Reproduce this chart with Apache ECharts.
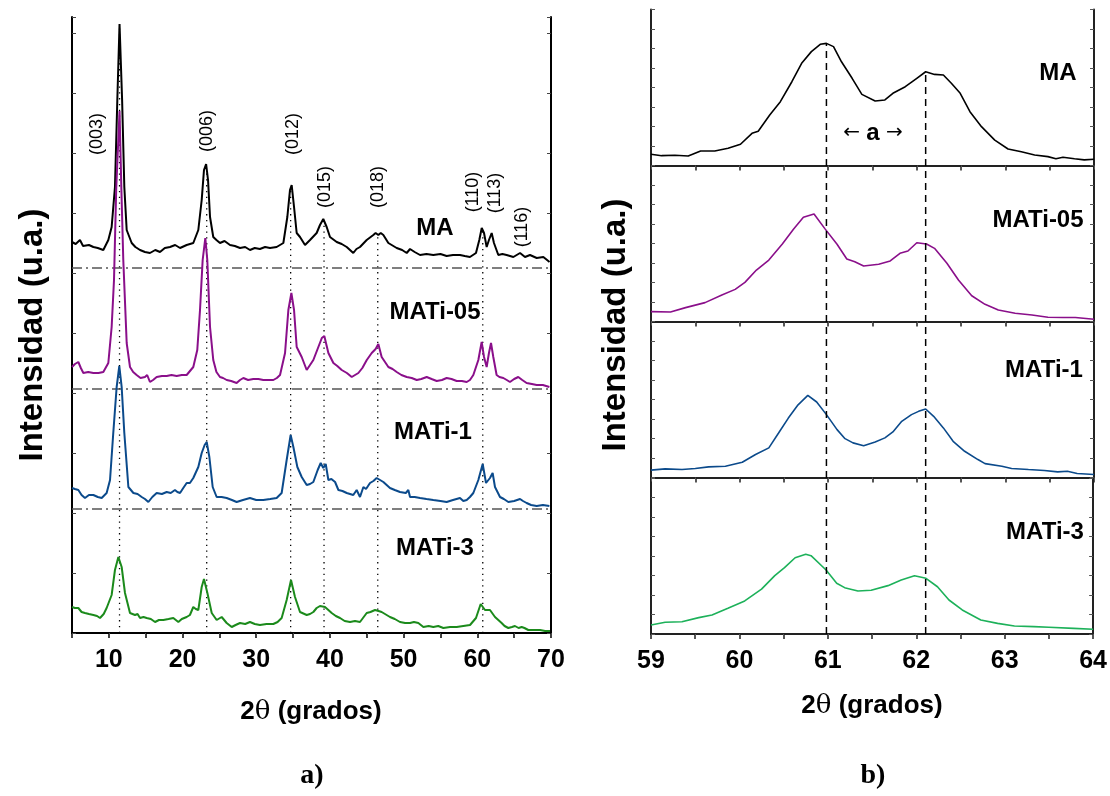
<!DOCTYPE html>
<html>
<head>
<meta charset="utf-8">
<script src="https://cdn.jsdelivr.net/npm/echarts@6/dist/echarts.min.js"></script>
<style>
html,body{margin:0;padding:0;background:#fff;}
#chart{width:1110px;height:796px;}
</style>
</head>
<body>
<div id="chart"></div>
<script>
// ---------- DATA: panel a) XRD patterns, [2theta, intensity above own baseline] ----------
const maA = [[5.0,26],[5.5,24],[6.08,28],[6.5,22],[6.76,20],[7.3,23],[7.9,21],[8.5,20],[9.25,18],[9.93,28],[10.38,41],[10.83,81],[11.15,168],[11.45,244],[11.8,168],[12.1,81],[12.42,38],[13.1,25],[13.6,21],[14.23,18],[14.9,16],[15.58,15],[16.3,18],[16.94,16],[17.6,20],[18.3,21],[19.0,23],[19.66,20],[20.56,23],[21.46,25],[22.14,38],[22.6,68],[22.91,98],[23.2,104],[23.46,88],[23.73,51],[24.17,31],[24.6,28],[25.08,25],[25.7,27],[26.44,23],[27.1,22],[27.8,20],[28.5,21],[29.15,18],[29.8,20],[30.5,19],[31.2,21],[31.87,20],[32.77,21],[33.68,25],[34.22,51],[34.58,78],[34.81,83],[35.13,61],[35.49,35],[35.94,31],[36.62,23],[37.3,28],[38.2,35],[38.65,43],[39.1,49],[39.56,41],[40.01,31],[40.92,26],[41.6,24],[42.28,21],[43.17,15],[43.6,19],[44.08,21],[44.99,28],[45.89,33],[46.2,35],[46.57,33],[46.9,35],[47.25,33],[47.93,25],[49.06,20],[49.8,18],[50.42,15],[50.87,19],[51.5,16],[52.23,13],[53.1,14],[54.03,13],[55.0,14],[55.84,12],[56.7,13],[57.65,13],[58.3,12],[59.0,11],[59.82,15],[60.27,28],[60.6,40],[60.91,35],[61.27,21],[61.58,28],[61.95,35],[62.26,25],[62.85,13],[63.4,14],[63.98,13],[64.89,11],[65.8,15],[66.47,11],[67.15,13],[68.06,10],[68.96,11],[69.3,9],[69.8,6]];
const mati05A = [[5.0,22],[5.4,25],[5.86,27],[6.2,21],[6.54,16],[7.2,17],[7.9,16],[8.6,16],[9.25,17],[9.93,26],[10.38,62],[10.7,109],[11.0,200],[11.45,278],[11.7,200],[11.96,129],[12.42,46],[12.87,22],[13.3,17],[13.77,14],[14.3,11],[14.9,12],[15.2,14],[15.58,7],[16.0,9],[16.49,12],[17.2,13],[17.85,13],[18.5,14],[19.2,13],[19.9,14],[20.56,14],[21.46,22],[22.0,39],[22.37,79],[22.73,129],[23.09,151],[23.36,129],[23.73,62],[24.17,29],[24.6,17],[25.08,12],[25.5,11],[25.99,9],[26.6,8],[27.34,6],[27.8,9],[28.25,11],[28.9,9],[29.6,10],[30.3,10],[30.96,9],[31.6,9],[32.32,9],[32.8,11],[33.23,14],[33.91,36],[34.36,79],[34.77,96],[35.13,79],[35.49,42],[36.17,32],[36.85,19],[37.3,24],[37.75,29],[38.43,42],[38.9,51],[39.24,53],[39.79,36],[40.47,26],[41.0,23],[41.6,19],[42.3,16],[42.96,12],[43.86,16],[44.4,21],[45.0,29],[45.67,36],[46.2,40],[46.57,45],[47.02,32],[47.93,22],[48.5,20],[49.06,17],[49.7,14],[50.42,12],[51.1,11],[51.78,9],[52.4,10],[53.13,12],[53.8,10],[54.49,8],[55.2,9],[55.84,11],[56.5,10],[57.2,8],[57.9,8],[58.56,7],[59.0,9],[59.46,14],[60.14,29],[60.59,47],[60.91,32],[61.27,22],[61.58,36],[61.86,46],[62.17,32],[62.62,14],[63.0,12],[63.53,11],[64.0,9],[64.43,7],[65.0,10],[65.56,12],[66.1,9],[66.69,6],[67.4,5],[68.06,4],[68.9,4],[69.78,2]];
const mati1A = [[5.0,21],[5.4,20],[5.86,19],[6.3,14],[6.76,11],[7.3,14],[7.9,14],[8.5,12],[9.03,11],[9.7,16],[10.16,29],[10.6,76],[11.06,122],[11.42,143],[11.74,122],[12.1,76],[12.65,22],[13.33,16],[13.9,15],[14.46,12],[14.9,10],[15.36,7],[15.9,12],[16.49,16],[17.2,15],[17.85,17],[18.4,16],[18.97,19],[19.3,17],[19.66,16],[20.1,21],[20.56,26],[21.0,26],[21.46,31],[22.14,42],[22.6,56],[23.0,64],[23.28,67],[23.64,52],[24.09,22],[24.63,12],[25.3,12],[25.99,11],[26.7,9],[27.34,7],[28.2,9],[29.15,11],[30.0,9],[30.96,9],[31.9,10],[32.77,11],[33.45,16],[34.13,49],[34.67,74],[35.04,62],[35.58,42],[36.17,32],[36.85,24],[37.3,25],[37.75,27],[38.34,39],[38.75,46],[39.1,41],[39.43,45],[39.79,29],[40.2,30],[40.7,27],[41.15,19],[41.7,18],[42.28,16],[43.17,14],[43.63,19],[44.08,12],[44.54,22],[44.9,20],[45.44,26],[45.9,28],[46.34,31],[46.8,29],[47.25,27],[48.15,21],[48.8,19],[49.51,17],[50.3,16],[50.64,19],[50.87,12],[51.5,12],[52.23,11],[53.1,10],[54.03,9],[55.0,8],[55.84,7],[56.7,9],[57.65,11],[58.1,8],[58.56,9],[59.0,12],[59.46,16],[60.14,29],[60.73,45],[61.18,26],[61.72,31],[62.08,36],[62.4,22],[63.08,12],[63.6,10],[64.21,7],[65.0,8],[65.8,10],[66.2,8],[66.69,6],[67.3,4],[68.06,3],[68.9,4],[69.78,3]];
const mati3A = [[5.0,26],[5.4,25],[5.86,25],[6.3,21],[6.76,20],[7.3,19],[7.9,18],[8.4,17],[8.8,15],[9.3,19],[9.7,25],[10.38,38],[10.83,63],[11.29,76],[11.74,66],[12.19,40],[12.87,20],[13.55,18],[13.9,19],[14.23,15],[14.7,16],[15.13,15],[15.7,14],[16.27,11],[16.8,13],[17.4,13],[18.1,14],[18.75,15],[19.43,11],[19.9,14],[20.56,16],[21.0,18],[21.46,26],[21.8,24],[22.14,23],[22.6,46],[22.91,54],[23.37,40],[23.96,20],[24.63,13],[25.31,16],[25.99,10],[26.67,6],[27.2,8],[27.8,10],[28.5,9],[29.15,11],[29.8,9],[30.5,8],[31.4,9],[32.32,9],[32.9,11],[33.45,15],[34.13,33],[34.72,53],[35.26,36],[35.94,21],[36.85,18],[37.3,19],[37.75,21],[38.2,25],[38.65,27],[39.33,26],[40.24,20],[40.8,17],[41.37,15],[42.0,12],[42.73,11],[43.4,12],[44.08,11],[44.99,20],[45.5,21],[46.12,23],[46.6,22],[47.02,21],[48.15,16],[48.8,14],[49.51,11],[50.2,10],[50.87,10],[51.4,11],[52.0,10],[52.68,6],[53.4,7],[54.03,6],[54.7,7],[55.39,5],[56.3,6],[57.2,6],[58.1,7],[59.01,8],[59.82,15],[60.46,29],[61.04,23],[61.72,23],[62.4,16],[63.3,10],[63.7,7],[64.21,5],[64.7,6],[65.11,7],[65.6,5],[66.02,6],[66.4,5],[66.92,3],[67.7,3],[68.51,3],[69.2,2],[69.87,2]];

// ---------- DATA: panel b) zoom 59-64, [2theta, intensity (% of panel)] ----------
const maB = [[59.0,7.2],[59.12,6.3],[59.27,6.6],[59.42,6.1],[59.56,9.3],[59.72,9.3],[59.87,11],[60.01,13.6],[60.14,20.6],[60.21,22],[60.34,32.4],[60.46,40.9],[60.59,53.7],[60.70,65.5],[60.81,73],[60.91,77.7],[60.98,78.3],[61.06,76.2],[61.15,66.5],[61.27,55.9],[61.38,45.6],[61.53,41.3],[61.64,42],[61.73,46.3],[61.87,50.5],[62.0,55.9],[62.1,60.1],[62.2,58.4],[62.3,58],[62.39,52.7],[62.49,46.3],[62.6,34.5],[62.73,24.9],[62.88,16.3],[63.03,10.6],[63.18,8.8],[63.33,6.7],[63.48,5.7],[63.57,4.3],[63.65,5.3],[63.78,4.3],[63.89,3.6],[64.0,4]];
const mati05B = [[59.0,6.3],[59.22,6.1],[59.39,8.9],[59.61,12.1],[59.8,17],[59.95,20.6],[60.06,25.1],[60.19,33],[60.33,39.4],[60.48,49.5],[60.61,59.3],[60.72,66.8],[60.84,68.9],[60.96,59.7],[61.1,49.5],[61.21,40.1],[61.3,38.3],[61.4,35.6],[61.57,36.7],[61.7,38.8],[61.81,43.7],[61.9,45.2],[62.0,50.5],[62.11,49.7],[62.2,46.9],[62.34,37.3],[62.47,26.6],[62.62,16.5],[62.77,11],[62.92,7.4],[63.11,5.3],[63.3,4.2],[63.48,2.7],[63.65,2.6],[63.79,2.6],[64.0,1.4]];
const mati1B = [[59.0,4.7],[59.16,5.5],[59.35,5.1],[59.5,5.8],[59.65,6.8],[59.84,7.2],[60.03,9.8],[60.18,14.7],[60.33,19],[60.44,28.5],[60.55,38.1],[60.66,46.6],[60.77,52.6],[60.87,48.4],[60.98,40.3],[61.1,30.7],[61.19,24.9],[61.28,22.2],[61.4,20.4],[61.53,22.8],[61.64,25.4],[61.73,29.2],[61.83,36],[61.94,40.3],[62.02,42.4],[62.1,43.9],[62.19,39.2],[62.3,31.8],[62.41,23.2],[62.54,16.8],[62.69,11.5],[62.77,8.9],[62.96,7.2],[63.07,5.8],[63.26,5.1],[63.44,4.5],[63.59,3.6],[63.7,4],[63.81,2.6],[64.0,1.9]];
const mati3B = [[59.0,5.8],[59.16,7.5],[59.35,7.9],[59.54,10.5],[59.69,12.2],[59.87,16.5],[60.06,21.2],[60.25,28.8],[60.4,37.4],[60.51,42.5],[60.63,48.9],[60.75,51.1],[60.81,50.2],[60.98,41],[61.1,32.5],[61.19,29.7],[61.34,27.6],[61.49,28],[61.68,31],[61.83,34.6],[61.98,37.4],[62.11,35.7],[62.24,30.3],[62.37,21.8],[62.52,15.4],[62.73,9],[62.92,6.8],[63.11,5.1],[63.33,4.7],[63.5,4.3],[63.78,3.6],[64.0,3]];

// ---------- labels ----------
const sampleNames = ['MA', 'MATi-05', 'MATi-1', 'MATi-3'];
const reflections = ['(003)', '(006)', '(012)', '(015)', '(018)', '(110)', '(113)', '(116)'];
const refGuideX = [11.45, 23.28, 34.67, 39.2, 46.49, 60.74];  // dotted guides
const shiftGuideX = [60.98, 62.10];                            // dashed guides in b)
const xTicksA = [5, 70, 5];   // min, max, step
const xTicksB = [59, 64, 0.5];

// ---------- layout / style ----------
const FONT = '"Liberation Sans", Arial, sans-serif';
const colorsA = ['#000000', '#8a0f8a', '#0b4a8b', '#1b8a1b'];
const colorsB = ['#000000', '#8a0f8a', '#0b4a8b', '#1db15a'];
const offsetsA = [365, 244, 124, 0];
const GA = {left: 72, top: 17, width: 479, height: 616};
const GB = {left: 651, width: 443};
const bTops = [9.5, 165.5, 321.5, 478];
const bH = 156;

function interp(arr, x) {
  for (let i = 0; i < arr.length - 1; i++) {
    if (arr[i][0] <= x && arr[i + 1][0] >= x) {
      const t = (x - arr[i][0]) / (arr[i + 1][0] - arr[i][0] || 1);
      return arr[i][1] + t * (arr[i + 1][1] - arr[i][1]);
    }
  }
  return 0;
}

const chart = echarts.init(document.getElementById('chart'), null, {renderer: 'canvas'});

const grids = [];
const xAxes = [];
const yAxes = [];
const series = [];

// ---- panel a grid ----
grids.push({left: GA.left, top: GA.top, width: GA.width, height: GA.height, containLabel: false});
const axLineA = {show: true, lineStyle: {color: '#000', width: 2}};
xAxes.push({gridIndex: 0, type: 'value', min: xTicksA[0], max: xTicksA[1], interval: xTicksA[2], position: 'bottom',
  axisLine: axLineA, axisTick: {show: true, inside: false, length: 5, lineStyle: {color: '#000', width: 1.5}},
  splitLine: {show: false},
  axisLabel: {show: true, margin: 15, color: '#000', fontFamily: FONT, fontWeight: 'bold', fontSize: 25,
    formatter: v => (v % 10 === 0 ? String(v) : '')}});
xAxes.push({gridIndex: 0, type: 'value', min: xTicksA[0], max: xTicksA[1], interval: xTicksA[2], position: 'top',
  axisLine: axLineA, axisTick: {show: true, inside: true, length: 4, lineStyle: {color: '#444', width: 1}},
  splitLine: {show: false}, axisLabel: {show: false}});
yAxes.push({gridIndex: 0, type: 'value', min: 0, max: 616, interval: 60, position: 'left',
  axisLine: axLineA, axisTick: {show: true, inside: true, length: 4, lineStyle: {color: '#444', width: 1}},
  splitLine: {show: false}, axisLabel: {show: false}});
yAxes.push({gridIndex: 0, type: 'value', min: 0, max: 616, interval: 60, position: 'right',
  axisLine: axLineA, axisTick: {show: true, inside: true, length: 4, lineStyle: {color: '#444', width: 1}},
  splitLine: {show: false}, axisLabel: {show: false}});

// ---- panel b grids ----
const axLineB = {show: true, lineStyle: {color: '#222', width: 2}};
const bAxisIdx = [];
bTops.forEach((t, i) => {
  const gi = grids.length;
  grids.push({left: GB.left, top: t, width: GB.width, height: bH, containLabel: false});
  const last = i === bTops.length - 1;
  bAxisIdx.push([xAxes.length, yAxes.length]);
  xAxes.push({gridIndex: gi, type: 'value', min: xTicksB[0], max: xTicksB[1], interval: xTicksB[2], position: 'bottom',
    axisLine: axLineB, axisTick: {show: true, inside: false, length: 5, lineStyle: {color: '#222', width: 1.5}},
    splitLine: {show: false},
    axisLabel: {show: last, margin: 15, color: '#000', fontFamily: FONT, fontWeight: 'bold', fontSize: 25,
      formatter: v => (Math.abs(v - Math.round(v)) < 1e-9 ? String(Math.round(v)) : '')}});
  xAxes.push({gridIndex: gi, type: 'value', min: xTicksB[0], max: xTicksB[1], interval: xTicksB[2], position: 'top',
    axisLine: axLineB, axisTick: {show: true, inside: true, length: 4, lineStyle: {color: '#555', width: 1}},
    splitLine: {show: false}, axisLabel: {show: false}});
  yAxes.push({gridIndex: gi, type: 'value', min: 0, max: 100, interval: 12.5, position: 'left',
    axisLine: axLineB, axisTick: {show: true, inside: true, length: 4, lineStyle: {color: '#555', width: 1}},
    splitLine: {show: false}, axisLabel: {show: false}});
  yAxes.push({gridIndex: gi, type: 'value', min: 0, max: 100, interval: 12.5, position: 'right',
    axisLine: axLineB, axisTick: {show: true, inside: true, length: 4, lineStyle: {color: '#555', width: 1}},
    splitLine: {show: false}, axisLabel: {show: false}});
});

// ---- overlay grid for dashed guides in b ----
const ovG = grids.length;
grids.push({left: GB.left, top: bTops[0], width: GB.width, height: bTops[3] + bH - bTops[0], containLabel: false});
const ovX = xAxes.length, ovY = yAxes.length;
xAxes.push({gridIndex: ovG, type: 'value', min: xTicksB[0], max: xTicksB[1], show: false});
yAxes.push({gridIndex: ovG, type: 'value', min: 0, max: 4, show: false});

const noSym = {type: 'line', symbol: 'none', silent: true, animation: false, z: 2};

// dotted guides in a
refGuideX.forEach(x => {
  series.push(Object.assign({}, noSym, {xAxisIndex: 0, yAxisIndex: 0,
    data: [[x, 0], [x, offsetsA[0] + interp(maA, x)]],
    lineStyle: {color: '#000', width: 1.3, type: [1.3, 4.5]}}));
});
// dash-dot separators in a
offsetsA.slice(0, 3).forEach(o => {
  series.push(Object.assign({}, noSym, {xAxisIndex: 0, yAxisIndex: 0,
    data: [[xTicksA[0], o], [xTicksA[1], o]],
    lineStyle: {color: '#555', width: 1.6, type: [10, 4, 2, 4]}}));
});
// curves a
[maA, mati05A, mati1A, mati3A].forEach((d, i) => {
  series.push(Object.assign({}, noSym, {name: sampleNames[i], xAxisIndex: 0, yAxisIndex: 0, z: 3 + i,
    data: d.map(p => [p[0], p[1] + offsetsA[i]]),
    lineStyle: {color: colorsA[i], width: 2}}));
});
// curves b
[maB, mati05B, mati1B, mati3B].forEach((d, i) => {
  series.push(Object.assign({}, noSym, {name: sampleNames[i] + ' b', xAxisIndex: bAxisIdx[i][0], yAxisIndex: bAxisIdx[i][1], z: 3,
    data: d,
    lineStyle: {color: colorsB[i], width: 1.6}}));
});
// dashed guides in b
shiftGuideX.forEach(x => {
  series.push(Object.assign({}, noSym, {xAxisIndex: ovX, yAxisIndex: ovY, z: 4,
    data: [[x, 0], [x, 3 + interp(maB, x) / 100]],
    lineStyle: {color: '#000', width: 1.5, type: [7, 5]}}));
});

// ---------- text ----------
const graphic = [];
function txt(x, y, text, opt) {
  graphic.push(Object.assign({type: 'text', x: x, y: y, silent: true, z: 100,
    style: Object.assign({text: text, fill: '#000', font: opt.font, textAlign: 'center', textVerticalAlign: 'middle'}, opt.style || {})},
    opt.extra || {}));
}
const peakLabelPos = [[97, 134], [207, 131], [293, 134], [325, 187], [378, 187], [473, 192], [495, 193], [522, 227]];
reflections.forEach((r, i) => {
  txt(peakLabelPos[i][0], peakLabelPos[i][1], r, {font: '18px ' + FONT, extra: {rotation: Math.PI / 2}});
});
const nameA = [[435, 228], [435, 312], [433, 432], [435, 548]];
const nameB = [[1058, 73], [1038, 220], [1044, 370], [1045, 532]];
sampleNames.forEach((n, i) => {
  txt(nameA[i][0], nameA[i][1], n, {font: 'bold 24px ' + FONT});
  txt(nameB[i][0], nameB[i][1], n, {font: 'bold 24px ' + FONT});
});
// arrow annotation
graphic.push({type: 'text', x: 873, y: 133, silent: true, z: 100,
  style: {text: '{ar|\u2190 }{a|a}{ar| \u2192}', textAlign: 'center', textVerticalAlign: 'middle',
    rich: {ar: {font: '20px "DejaVu Sans", sans-serif', fill: '#000'}, a: {font: 'bold 24px ' + FONT, fill: '#000'}}}});
// axis titles
function xTitle(x, y) {
  graphic.push({type: 'text', x: x, y: y, silent: true, z: 100,
    style: {text: '{b|2}{t|\u03b8}{b| (grados)}', textAlign: 'center', textVerticalAlign: 'middle',
      rich: {b: {font: 'bold 26px ' + FONT, fill: '#000'}, t: {font: '26px "DejaVu Serif", serif', fill: '#000'}}}});
}
xTitle(311, 712);
xTitle(872, 706);
txt(33, 335, 'Intensidad (u.a.)', {font: 'bold 33px ' + FONT, extra: {rotation: Math.PI / 2}});
txt(616, 325, 'Intensidad (u.a.)', {font: 'bold 33px ' + FONT, extra: {rotation: Math.PI / 2}});
txt(312, 776, 'a)', {font: 'bold 28px "Liberation Serif", "Times New Roman", serif'});
txt(873, 776, 'b)', {font: 'bold 28px "Liberation Serif", "Times New Roman", serif'});

chart.setOption({
  animation: false,
  backgroundColor: '#fff',
  grid: grids,
  xAxis: xAxes,
  yAxis: yAxes,
  series: series,
  graphic: graphic
});
</script>
</body>
</html>
